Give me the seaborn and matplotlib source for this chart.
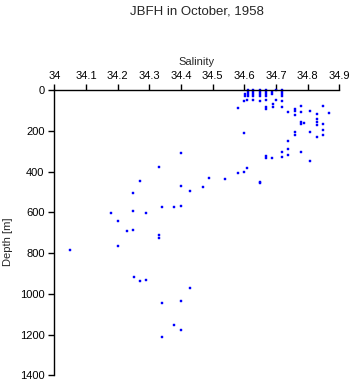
import matplotlib
matplotlib.use("Agg")
import matplotlib.pyplot as plt
import seaborn as sns
import pandas as pd

salinity = [
    34.603, 34.603,
    34.611, 34.611, 34.611, 34.611,
    34.628, 34.628, 34.628, 34.628,
    34.650, 34.650, 34.650, 34.650,
    34.669, 34.669, 34.669, 34.669,
    34.688, 34.688,
    34.700,
    34.720, 34.720, 34.720, 34.720,
    34.600, 34.609, 34.628, 34.650, 34.669, 34.700, 34.720,
    34.579, 34.669, 34.669, 34.690, 34.690, 34.720, 34.739,
    34.759, 34.759, 34.759, 34.779, 34.779,
    34.779, 34.779, 34.789, 34.808,
    34.829, 34.829, 34.829, 34.829, 34.849, 34.868,
    34.849, 34.849, 34.849, 34.829, 34.808, 34.759, 34.759, 34.739, 34.600,
    34.720, 34.739, 34.739, 34.779, 34.808,
    34.669, 34.669, 34.688, 34.720,
    34.650, 34.650, 34.609, 34.600, 34.579,
    34.540, 34.489, 34.470,
    34.399, 34.331, 34.272, 34.249, 34.400, 34.429, 34.341, 34.379, 34.401,
    34.180, 34.249, 34.290, 34.200, 34.230, 34.249, 34.331, 34.331, 34.200, 34.050,
    34.251, 34.271, 34.290, 34.429, 34.341, 34.400, 34.379, 34.400, 34.341,
]
depth = [
    20, 30,
    0, 10, 20, 30,
    0, 10, 20, 30,
    0, 10, 20, 30,
    0, 10, 20, 30,
    10, 20,
    0,
    0, 10, 20, 30,
    51, 49, 49, 51, 49, 49, 51,
    85, 80, 90, 67, 82, 83, 108,
    90, 100, 123, 79, 105,
    154, 166, 159, 103,
    116, 141, 156, 172, 76, 113,
    166, 195, 220, 231, 205, 206, 220, 247, 211,
    301, 290, 316, 305, 347,
    323, 331, 331, 329,
    449, 457, 383, 403, 406,
    437, 432, 477,
    308, 378, 444, 506, 471, 496, 573, 572, 568,
    604, 594, 604, 643, 692, 688, 712, 727, 765, 784,
    918, 938, 933, 971, 1046, 1033, 1153, 1179, 1212,
]
x_ticks = [34.0, 34.1, 34.2, 34.3, 34.4, 34.5, 34.6, 34.7, 34.8, 34.9]
x_tick_labels = ["34", "34.1", "34.2", "34.3", "34.4", "34.5", "34.6", "34.7", "34.8", "34.9"]
y_ticks = [0, 200, 400, 600, 800, 1000, 1200, 1400]

df = pd.DataFrame({"Salinity": salinity, "Depth": depth})

sns.set_style("white")
plt.rcParams["font.family"] = ["Liberation Sans", "DejaVu Sans"]

fig = plt.figure(figsize=(3.53, 3.84), dpi=100)
ax = fig.add_axes([54.3 / 353, 8.7 / 384, 285 / 353, 285 / 384])

sns.scatterplot(data=df, x="Salinity", y="Depth", ax=ax, marker="s", s=3,
                color="#0000ff", edgecolor="#0000ff", linewidth=0.3, clip_on=False)

ax.set_xlim(34.0, 34.9)
ax.set_ylim(1400, 0)
ax.xaxis.tick_top()
ax.xaxis.set_label_position("top")
ax.set_xticks(x_ticks)
ax.set_xticklabels(x_tick_labels)
ax.set_yticks(y_ticks)
ax.set_yticklabels([str(v) for v in y_ticks])
ax.tick_params(axis="x", direction="out", length=4, width=1, colors="black",
               labelsize=8, pad=3, top=True, bottom=False)
ax.tick_params(axis="y", direction="out", length=4, width=1, colors="black",
               labelsize=8, pad=3, left=True)
for side in ["bottom", "right"]:
    ax.spines[side].set_visible(False)
for side in ["top", "left"]:
    ax.spines[side].set_visible(True)
    ax.spines[side].set_color("black")
    ax.spines[side].set_linewidth(1)
ax.set_xlabel("Salinity", fontsize=8, labelpad=4)
ax.set_ylabel("Depth [m]", fontsize=8)
ax.yaxis.set_label_coords((13 - 54.3) / 285, 0.47)
ax.grid(False)

fig.text(196.8 / 353, 1 - 12 / 384, "JBFH in October, 1958", ha="center", va="center", fontsize=9.5)

fig.savefig("out.png", dpi=100)
